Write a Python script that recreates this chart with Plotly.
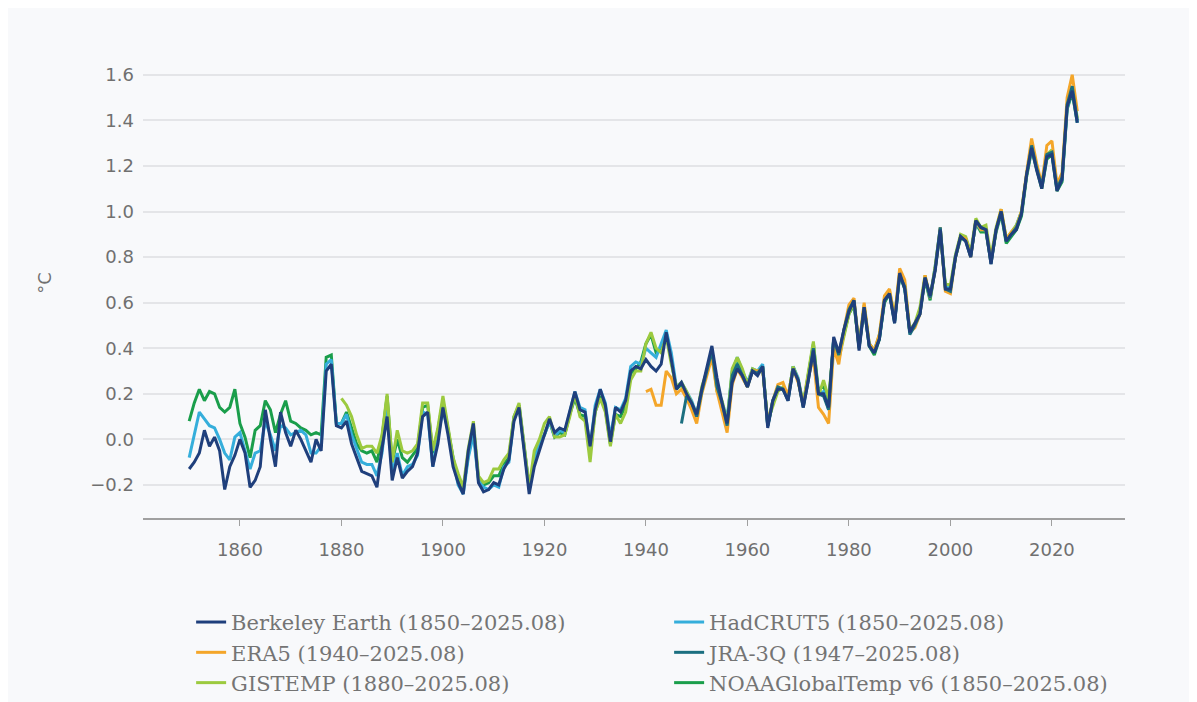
import plotly.graph_objects as go

years_be = list(range(1850, 2026))
berkeley = [
    -0.13, -0.10, -0.06, 0.04, -0.03, 0.01, -0.05, -0.22, -0.12, -0.07,
    0.00, -0.06, -0.21, -0.18, -0.12, 0.13, 0.00, -0.12, 0.12, 0.03,
    -0.03, 0.04, 0.00, -0.05, -0.10, 0.00, -0.05, 0.30, 0.33, 0.06,
    0.05, 0.08, -0.02, -0.08, -0.14, -0.15, -0.16, -0.21, -0.04, 0.10,
    -0.18, -0.08, -0.17, -0.14, -0.12, -0.06, 0.10, 0.12, -0.12, -0.02,
    0.14, 0.02, -0.12, -0.19, -0.24, -0.05, 0.07, -0.19, -0.23, -0.22,
    -0.19, -0.20, -0.13, -0.09, 0.08, 0.14, -0.05, -0.24, -0.12, -0.05,
    0.01, 0.09, 0.03, 0.05, 0.04, 0.12, 0.21, 0.13, 0.12, -0.03,
    0.13, 0.22, 0.15, -0.01, 0.14, 0.12, 0.17, 0.30, 0.32, 0.31,
    0.35, 0.32, 0.30, 0.33, 0.47, 0.35, 0.22, 0.25, 0.20, 0.16,
    0.11, 0.22, 0.32, 0.41, 0.27, 0.16, 0.07, 0.25, 0.31, 0.28,
    0.23, 0.30, 0.28, 0.32, 0.05, 0.17, 0.22, 0.22, 0.17, 0.31,
    0.26, 0.14, 0.26, 0.39, 0.20, 0.20, 0.14, 0.45, 0.38, 0.48,
    0.56, 0.61, 0.39, 0.58, 0.41, 0.38, 0.44, 0.61, 0.64, 0.51,
    0.73, 0.66, 0.47, 0.51, 0.55, 0.71, 0.63, 0.74, 0.92, 0.66,
    0.66, 0.80, 0.89, 0.87, 0.80, 0.96, 0.93, 0.92, 0.77, 0.92,
    1.00, 0.87, 0.90, 0.92, 0.99, 1.16, 1.28, 1.18, 1.10, 1.24,
    1.25, 1.09, 1.14, 1.46, 1.53, 1.39,
]

years_hc = list(range(1850, 2026))
hadcrut5 = [
    -0.08, 0.02, 0.12, 0.09, 0.06, 0.05, 0.00, -0.06, -0.09, 0.01,
    0.03, -0.05, -0.13, -0.06, -0.05, 0.08, 0.02, -0.05, 0.06, 0.05,
    0.02, 0.03, 0.04, 0.02, -0.06, -0.06, -0.03, 0.33, 0.35, 0.07,
    0.07, 0.11, 0.02, -0.04, -0.10, -0.11, -0.11, -0.16, -0.06, 0.14,
    -0.15, -0.06, -0.16, -0.12, -0.11, -0.07, 0.12, 0.11, -0.12, 0.01,
    0.13, 0.04, -0.09, -0.20, -0.24, -0.08, 0.02, -0.18, -0.21, -0.22,
    -0.20, -0.21, -0.12, -0.10, 0.09, 0.15, -0.05, -0.22, -0.10, -0.01,
    0.02, 0.08, 0.01, 0.04, 0.03, 0.12, 0.21, 0.14, 0.13, -0.04,
    0.15, 0.22, 0.16, 0.01, 0.14, 0.13, 0.18, 0.32, 0.34, 0.33,
    0.40, 0.38, 0.36, 0.42, 0.48, 0.38, 0.23, 0.25, 0.21, 0.17,
    0.11, 0.22, 0.30, 0.39, 0.24, 0.17, 0.09, 0.30, 0.36, 0.30,
    0.25, 0.31, 0.30, 0.33, 0.06, 0.17, 0.23, 0.22, 0.18, 0.32,
    0.27, 0.15, 0.27, 0.40, 0.20, 0.21, 0.13, 0.44, 0.37, 0.47,
    0.56, 0.60, 0.41, 0.58, 0.42, 0.39, 0.45, 0.61, 0.64, 0.52,
    0.73, 0.67, 0.47, 0.50, 0.57, 0.71, 0.62, 0.76, 0.93, 0.67,
    0.66, 0.81, 0.89, 0.88, 0.81, 0.95, 0.92, 0.92, 0.79, 0.92,
    1.00, 0.88, 0.90, 0.94, 1.00, 1.16, 1.28, 1.19, 1.11, 1.24,
    1.26, 1.10, 1.14, 1.45, 1.54, 1.39,
]

years_no = list(range(1850, 2026))
noaa = [
    0.08, 0.16, 0.22, 0.17, 0.21, 0.20, 0.14, 0.12, 0.14, 0.22,
    0.07, 0.01, -0.08, 0.04, 0.06, 0.17, 0.13, 0.03, 0.11, 0.17,
    0.08, 0.07, 0.05, 0.04, 0.02, 0.03, 0.02, 0.36, 0.37, 0.07,
    0.07, 0.12, 0.05, -0.02, -0.05, -0.06, -0.05, -0.10, 0.01, 0.19,
    -0.10, 0.00, -0.08, -0.10, -0.07, -0.04, 0.14, 0.15, -0.06, 0.04,
    0.17, 0.05, -0.08, -0.18, -0.22, -0.07, 0.05, -0.17, -0.20, -0.19,
    -0.16, -0.16, -0.11, -0.08, 0.10, 0.15, -0.04, -0.21, -0.09, -0.02,
    0.02, 0.08, 0.01, 0.03, 0.02, 0.11, 0.18, 0.11, 0.10, -0.06,
    0.12, 0.19, 0.13, -0.02, 0.11, 0.10, 0.15, 0.29, 0.31, 0.34,
    0.42, 0.46, 0.38, 0.39, 0.47, 0.35, 0.22, 0.24, 0.20, 0.16,
    0.10, 0.21, 0.30, 0.39, 0.23, 0.16, 0.08, 0.29, 0.35, 0.29,
    0.24, 0.30, 0.29, 0.32, 0.06, 0.16, 0.22, 0.22, 0.18, 0.32,
    0.26, 0.15, 0.28, 0.42, 0.21, 0.24, 0.15, 0.44, 0.37, 0.46,
    0.55, 0.59, 0.41, 0.58, 0.41, 0.37, 0.44, 0.60, 0.64, 0.52,
    0.72, 0.66, 0.47, 0.50, 0.56, 0.70, 0.61, 0.75, 0.91, 0.67,
    0.66, 0.80, 0.88, 0.88, 0.81, 0.95, 0.91, 0.91, 0.78, 0.91,
    0.99, 0.86, 0.89, 0.92, 0.98, 1.15, 1.27, 1.18, 1.10, 1.23,
    1.25, 1.09, 1.13, 1.45, 1.52, 1.39,
]

years_gi = list(range(1880, 2026))
gistemp = [
    0.18, 0.15, 0.10, 0.02, -0.04, -0.03, -0.03, -0.06, 0.02, 0.20,
    -0.10, 0.04, -0.05, -0.06, -0.05, -0.02, 0.16, 0.16, -0.05, 0.05,
    0.19, 0.06, -0.08, -0.15, -0.21, -0.04, 0.08, -0.16, -0.19, -0.18,
    -0.13, -0.13, -0.09, -0.06, 0.10, 0.16, -0.02, -0.21, -0.05, 0.00,
    0.07, 0.10, 0.01, 0.01, 0.02, 0.10, 0.20, 0.10, 0.08, -0.10,
    0.12, 0.18, 0.12, -0.03, 0.11, 0.07, 0.12, 0.26, 0.30, 0.30,
    0.42, 0.47, 0.40, 0.38, 0.45, 0.33, 0.23, 0.25, 0.21, 0.16,
    0.10, 0.23, 0.30, 0.38, 0.21, 0.17, 0.07, 0.31, 0.36, 0.31,
    0.24, 0.31, 0.30, 0.31, 0.08, 0.15, 0.21, 0.23, 0.18, 0.32,
    0.26, 0.16, 0.29, 0.43, 0.19, 0.26, 0.18, 0.42, 0.35, 0.45,
    0.55, 0.60, 0.40, 0.59, 0.42, 0.39, 0.46, 0.61, 0.65, 0.54,
    0.73, 0.68, 0.48, 0.51, 0.58, 0.72, 0.62, 0.76, 0.92, 0.68,
    0.68, 0.81, 0.90, 0.89, 0.82, 0.97, 0.93, 0.94, 0.80, 0.93,
    1.01, 0.88, 0.91, 0.94, 1.00, 1.16, 1.29, 1.19, 1.11, 1.25,
    1.27, 1.11, 1.15, 1.47, 1.55, 1.41,
]

years_er = list(range(1940, 2026))
era5 = [
    0.21, 0.22, 0.15, 0.15, 0.30, 0.27, 0.20, 0.22, 0.18, 0.13,
    0.07, 0.20, 0.28, 0.36, 0.21, 0.12, 0.03, 0.24, 0.31, 0.27,
    0.23, 0.30, 0.30, 0.31, 0.07, 0.17, 0.24, 0.25, 0.19, 0.31,
    0.25, 0.15, 0.27, 0.36, 0.14, 0.11, 0.07, 0.40, 0.33, 0.48,
    0.59, 0.62, 0.41, 0.60, 0.42, 0.39, 0.46, 0.63, 0.66, 0.53,
    0.75, 0.70, 0.47, 0.49, 0.55, 0.72, 0.62, 0.75, 0.93, 0.65,
    0.64, 0.80, 0.89, 0.88, 0.80, 0.96, 0.92, 0.92, 0.78, 0.92,
    1.01, 0.88, 0.91, 0.93, 1.00, 1.17, 1.32, 1.21, 1.12, 1.29,
    1.31, 1.12, 1.17, 1.50, 1.60, 1.44,
]

years_jr = list(range(1947, 2026))
jra3q = [
    0.07, 0.19, 0.16,
    0.10, 0.21, 0.30, 0.39, 0.23, 0.16, 0.06, 0.28, 0.33, 0.28,
    0.23, 0.30, 0.29, 0.32, 0.06, 0.17, 0.23, 0.22, 0.17, 0.31,
    0.26, 0.14, 0.26, 0.40, 0.20, 0.19, 0.13, 0.44, 0.37, 0.48,
    0.57, 0.61, 0.40, 0.58, 0.41, 0.38, 0.44, 0.61, 0.64, 0.51,
    0.72, 0.67, 0.46, 0.50, 0.55, 0.71, 0.62, 0.75, 0.93, 0.66,
    0.65, 0.80, 0.89, 0.87, 0.80, 0.96, 0.93, 0.92, 0.77, 0.92,
    1.00, 0.87, 0.90, 0.93, 0.99, 1.16, 1.29, 1.19, 1.11, 1.25,
    1.26, 1.10, 1.15, 1.47, 1.55, 1.40,
]

x_ticks = [1860, 1880, 1900, 1920, 1940, 1960, 1980, 2000, 2020]
y_ticks = [-0.2, 0.0, 0.2, 0.4, 0.6, 0.8, 1.0, 1.2, 1.4, 1.6]

# drawing order: bottom -> top ; legendrank gives the 2-column legend order
series = [
    ("NOAAGlobalTemp v6 (1850–2025.08)", years_no, noaa, "#1a9e4b", 6),
    ("HadCRUT5 (1850–2025.08)", years_hc, hadcrut5, "#35aedb", 2),
    ("GISTEMP (1880–2025.08)", years_gi, gistemp, "#9cca3f", 5),
    ("ERA5 (1940–2025.08)", years_er, era5, "#f4a62a", 3),
    ("JRA-3Q (1947–2025.08)", years_jr, jra3q, "#1b6f80", 4),
    ("Berkeley Earth (1850–2025.08)", years_be, berkeley, "#1f3f7c", 1),
]

fig = go.Figure()
for name, xs, ys, color, rank in series:
    fig.add_trace(go.Scatter(
        x=xs, y=ys, name=name, mode="lines",
        line=dict(color=color, width=3), legendrank=rank,
    ))

bg = "#f8f9fb"
fig.update_layout(
    width=1181, height=694,
    paper_bgcolor=bg, plot_bgcolor=bg,
    margin=dict(l=135, r=64, t=44, b=184, autoexpand=False),
    font=dict(family="DejaVu Sans", color="#777777"),
    showlegend=True,
    legend=dict(
        orientation="h", x=0.049, y=-0.18, xanchor="left", yanchor="top",
        entrywidth=433, entrywidthmode="pixels",
        font=dict(family="DejaVu Serif", size=21, color="#747474"),
        bgcolor="rgba(0,0,0,0)", itemwidth=30,
    ),
    xaxis=dict(
        range=[1840.9, 2034.4], tickvals=x_ticks,
        showgrid=False, zeroline=False,
        showline=True, linecolor="#a0a0a0", linewidth=1.5,
        ticks="outside", ticklen=6, tickcolor="#a0a0a0",
        tickfont=dict(family="DejaVu Sans", size=18, color="#707070"),
        ticklabelstandoff=9,
    ),
    yaxis=dict(
        range=[-0.345, 1.70], tickvals=y_ticks,
        tickformat=".1f",
        showgrid=True, gridcolor="#e4e5e8", gridwidth=1.5,
        zeroline=False, showline=False, ticks="",
        tickfont=dict(family="DejaVu Sans", size=18, color="#707070"),
        ticklabelstandoff=8,
    ),
    annotations=[dict(
        text="°C", xref="paper", yref="paper",
        x=-0.0998, y=0.505, xanchor="center", yanchor="middle",
        showarrow=False, textangle=-90,
        font=dict(family="DejaVu Sans", size=18, color="#707070"),
    )],
)

fig.write_html("out.html")
